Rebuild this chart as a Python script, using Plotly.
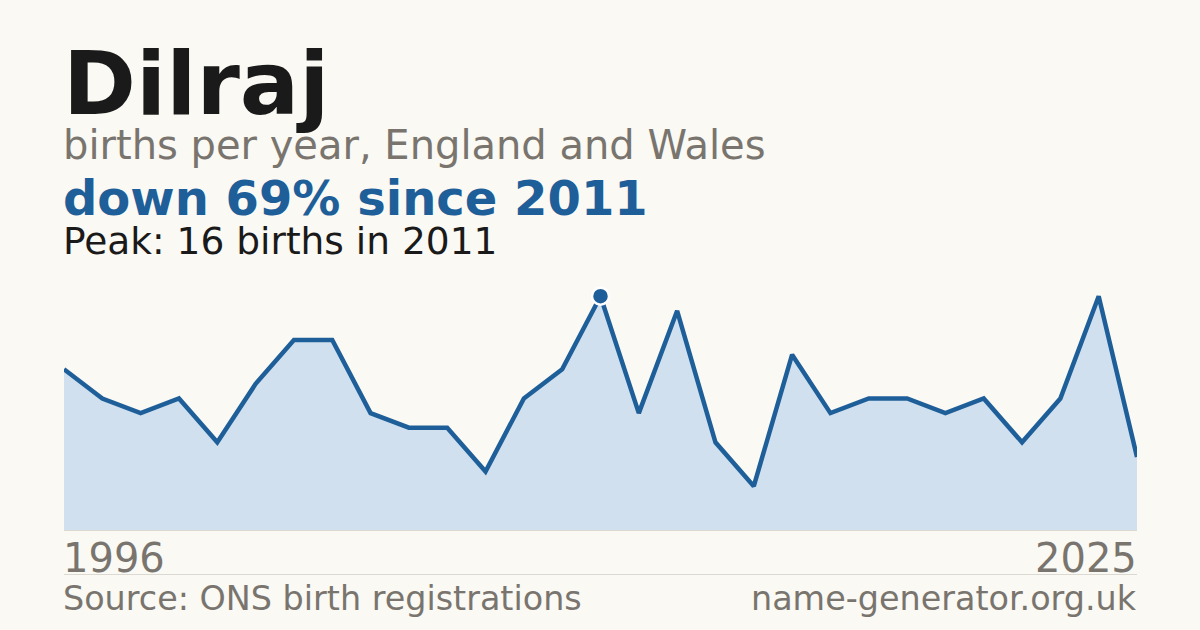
"""Name trend card: births per year for a single name"""

import plotly.graph_objects as go

NAME = "Dilraj"
SUBTITLE = "births per year, England and Wales"
SOURCE = "Source: ONS birth registrations"
SITE = "name-generator.org.uk"

# one year in the early run had too few registrations to be published
YEARS = [
    "1996", "1997", "1998", "1999", "2000", "2001", "2002", "2004", "2005",
    "2006", "2007", "2008", "2009", "2010", "2011", "2012", "2013", "2014",
    "2015", "2016", "2017", "2018", "2019", "2020", "2021", "2022", "2023",
    "2024", "2025",
]
BIRTHS = [
    11, 9, 8, 9, 6, 10, 13, 13, 8,
    7, 7, 4, 9, 11, 16, 8, 15, 6,
    3, 12, 8, 9, 9, 8, 9, 6, 9,
    16, 5,
]

BG = "#faf9f4"
BLUE = "#1f5f99"
FILL = "#d0e0ef"
GREY = "#79756e"
INK = "#1a1a1a"
FONT = "DejaVu Sans"

# pixel layout of the card
W, H = 1200, 630
LEFT, RIGHT = 64, 1137
PLOT_TOP, PLOT_BOTTOM = 267, 530


def py(y_px: float) -> float:
    """Converts a pixel row on the card to a paper y coordinate."""
    return (PLOT_BOTTOM - y_px) / (PLOT_BOTTOM - PLOT_TOP)


def text(label, y_px, size, color, bold=False, right=False):
    return dict(
        text=f"<b>{label}</b>" if bold else label,
        xref="paper", yref="paper", x=1 if right else 0, y=py(y_px),
        xanchor="right" if right else "left", yanchor="middle",
        xshift=2 if right else -3, showarrow=False,
        font=dict(family=FONT, size=size, color=color),
    )


peak_i = max(range(len(BIRTHS)), key=lambda i: BIRTHS[i])
peak_year, peak_val = YEARS[peak_i], BIRTHS[peak_i]
change = round((1 - BIRTHS[-1] / peak_val) * 100)

fig = go.Figure()
fig.add_trace(
    go.Scatter(
        x=YEARS, y=BIRTHS, mode="lines", fill="tozeroy",
        fillcolor=FILL, line=dict(color=BLUE, width=4.5),
        hoverinfo="skip",
    )
)
fig.add_trace(
    go.Scatter(
        x=[peak_year], y=[peak_val], mode="markers", cliponaxis=False,
        marker=dict(size=17, color=BLUE, line=dict(color="white", width=2.5)),
        hoverinfo="skip",
    )
)

fig.update_layout(
    width=W, height=H,
    paper_bgcolor=BG, plot_bgcolor=BG,
    showlegend=False,
    margin=dict(l=LEFT, r=W - RIGHT, t=PLOT_TOP, b=H - PLOT_BOTTOM),
    xaxis=dict(
        type="category", range=[0, len(YEARS) - 1], showgrid=False,
        zeroline=False, showticklabels=False, ticks="",
        showline=True, linecolor="#dcd9d2", linewidth=1,
    ),
    yaxis=dict(
        range=[0, 18], showgrid=False, zeroline=False,
        showticklabels=False, ticks="",
    ),
    annotations=[
        text(NAME, 83, 88, INK, bold=True),
        text(SUBTITLE, 145, 40, GREY),
        text(f"down {change}% since {peak_year}", 198, 48, BLUE, bold=True),
        text(f"Peak: {peak_val} births in {peak_year}", 241.5, 37.5, INK),
        text(YEARS[0], 557.5, 40, GREY),
        text(YEARS[-1], 557.5, 40, GREY, right=True),
        text(SOURCE, 598, 33.4, GREY),
        text(SITE, 598, 33.4, GREY, right=True),
    ],
    shapes=[
        dict(
            type="line", xref="paper", yref="paper",
            x0=0, x1=1, y0=py(574.5), y1=py(574.5),
            line=dict(color="#dcd9d2", width=1),
        )
    ],
)

# drop the browser's default page margin so the card fills the window
fig.write_html(
    "out.html",
    config={"displayModeBar": False},
    post_script=f"document.body.style.margin='0';"
    f"document.body.style.background='{BG}';",
)
